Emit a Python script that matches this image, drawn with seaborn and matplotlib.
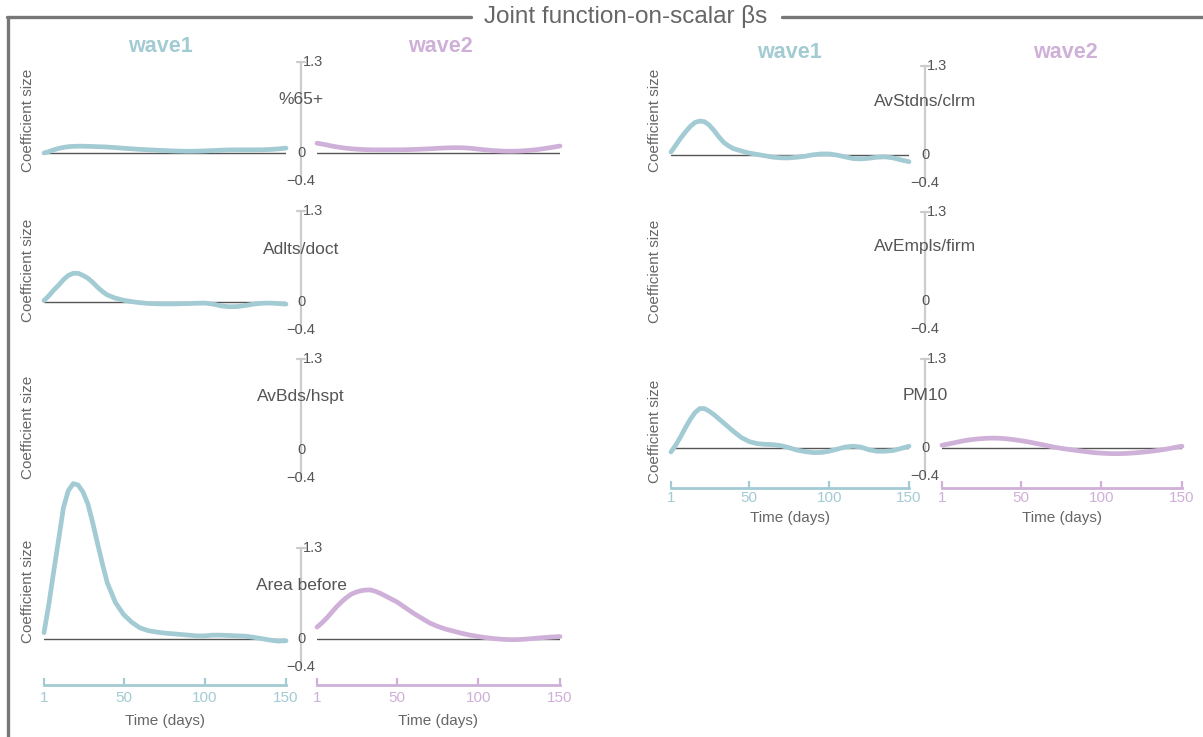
import matplotlib
matplotlib.use("Agg")
import matplotlib.pyplot as plt
import matplotlib.transforms as mtransforms
from matplotlib.lines import Line2D
import seaborn as sns

# ---------------- data ----------------
T = [1, 4, 7, 10, 13, 16, 19, 22, 25, 28, 31, 34, 37, 40,
     45, 50, 55, 60, 65, 70, 75, 80, 85, 90, 95, 100, 105, 110, 115, 120, 125, 130, 135, 140, 145, 150]

pct65_w1 = [0.0, 0.02, 0.045, 0.065, 0.08, 0.09, 0.095, 0.097, 0.097, 0.095, 0.093, 0.09, 0.088, 0.085,
            0.077, 0.068, 0.06, 0.052, 0.046, 0.04, 0.035, 0.03, 0.027, 0.025, 0.026, 0.03, 0.035, 0.04, 0.044, 0.045, 0.045, 0.045, 0.046, 0.05, 0.058, 0.07]
pct65_w2 = [0.14, 0.128, 0.115, 0.1, 0.088, 0.077, 0.068, 0.061, 0.055, 0.051, 0.048, 0.046, 0.045, 0.045,
            0.045, 0.045, 0.047, 0.05, 0.055, 0.06, 0.067, 0.073, 0.076, 0.075, 0.068, 0.055, 0.043, 0.033, 0.027, 0.025, 0.028, 0.035, 0.046, 0.062, 0.08, 0.1]
adlts_w1 = [0.02, 0.09, 0.17, 0.24, 0.32, 0.38, 0.41, 0.41, 0.38, 0.34, 0.28, 0.21, 0.15, 0.1,
            0.055, 0.025, 0.005, -0.01, -0.02, -0.025, -0.027, -0.027, -0.025, -0.022, -0.018, -0.015, -0.03, -0.055, -0.068, -0.065, -0.05, -0.03, -0.018, -0.015, -0.022, -0.03]
area_w1 = [0.09, 0.5, 0.97, 1.42, 1.88, 2.12, 2.22, 2.2, 2.1, 1.93, 1.66, 1.36, 1.07, 0.8,
           0.52, 0.35, 0.24, 0.16, 0.12, 0.1, 0.085, 0.075, 0.065, 0.055, 0.045, 0.045, 0.055, 0.055, 0.05, 0.045, 0.04, 0.025, 0.005, -0.015, -0.03, -0.025]
area_w2 = [0.17, 0.23, 0.3, 0.38, 0.46, 0.53, 0.59, 0.64, 0.67, 0.69, 0.7, 0.7, 0.68, 0.65,
           0.59, 0.53, 0.45, 0.37, 0.3, 0.23, 0.18, 0.14, 0.11, 0.08, 0.055, 0.035, 0.018, 0.005, -0.005, -0.01, -0.008, 0.0, 0.01, 0.02, 0.028, 0.035]
stdns_w1 = [0.05, 0.15, 0.25, 0.34, 0.42, 0.48, 0.5, 0.49, 0.44, 0.36, 0.27, 0.19, 0.14, 0.1,
            0.065, 0.035, 0.015, -0.005, -0.025, -0.035, -0.035, -0.025, -0.01, 0.01, 0.022, 0.022, 0.005, -0.02, -0.045, -0.05, -0.04, -0.025, -0.02, -0.035, -0.065, -0.09]
pm10_w1 = [-0.05, 0.05, 0.17, 0.3, 0.42, 0.52, 0.58, 0.58, 0.54, 0.49, 0.43, 0.37, 0.31, 0.25,
           0.16, 0.1, 0.07, 0.06, 0.055, 0.04, 0.01, -0.025, -0.045, -0.06, -0.058, -0.04, -0.01, 0.02, 0.033, 0.02, -0.02, -0.04, -0.04, -0.03, 0.0, 0.033]
pm10_w2 = [0.047, 0.06, 0.075, 0.09, 0.105, 0.118, 0.128, 0.136, 0.142, 0.147, 0.15, 0.15, 0.148, 0.143,
           0.13, 0.113, 0.094, 0.07, 0.047, 0.022, 0.002, -0.015, -0.03, -0.045, -0.06, -0.068, -0.074, -0.076, -0.072, -0.065, -0.055, -0.043, -0.028, -0.01, 0.012, 0.033]

xticks = [1, 50, 100, 150]

left_rows = [("%65+", pct65_w1, pct65_w2),
             ("Adlts/doct", adlts_w1, None),
             ("AvBds/hspt", None, None),
             ("Area before", area_w1, area_w2)]
right_rows = [("AvStdns/clrm", stdns_w1, None),
              ("AvEmpls/firm", None, None),
              ("PM10", pm10_w1, pm10_w2)]

# ---------------- style ----------------
sns.set_theme(style="white")
plt.rcParams["font.family"] = ["Liberation Sans", "DejaVu Sans"]

TEAL = "#a2cbd3"
PINK = "#cfb0d8"
GRAY = "#666666"
TXT = "#555555"
AXGRAY = "#cccccc"

W, H = 1203, 737
fig = plt.figure(figsize=(W / 100, H / 100), dpi=100)


def fbox(x1, y1, x2, y2):
    return [x1 / W, 1 - y2 / H, (x2 - x1) / W, (y2 - y1) / H]


def draw_group(rows, xw1, xw2, xc, tops, height, ylab, label_y, spine_off, tick_pad, time_y):
    for r, (name, s1, s2) in enumerate(rows):
        top = tops[r]
        axes = []
        for j, (xr, ser, col) in enumerate([(xw1, s1, TEAL), (xw2, s2, PINK)]):
            ax = fig.add_axes(fbox(xr[0], top, xr[1], top + height))
            ax.set_facecolor("none")
            ax.set_xlim(1, 150)
            ax.set_ylim(-0.4, 1.3)
            for sp in ax.spines.values():
                sp.set_visible(False)
            ax.set_yticks([])
            ax.set_xticks([])
            ax.grid(False)
            if ser is not None:
                ax.axhline(0, color="#555555", lw=1.0, zorder=1)
                sns.lineplot(x=T, y=ser, ax=ax, color=col, lw=3.4,
                             clip_on=False, zorder=3,
                             solid_joinstyle="round", solid_capstyle="round")
            ax.set_xlabel("")
            ax.set_ylabel("")
            axes.append(ax)
        ax0 = axes[0]
        # central y axis
        blend = mtransforms.blended_transform_factory(fig.transFigure, ax0.transData)
        xcf = xc / W
        ax0.add_line(Line2D([xcf, xcf], [-0.4, 1.3], transform=blend, color=AXGRAY,
                            lw=1.6, clip_on=False, zorder=0))
        ax0.add_line(Line2D([xcf - 4 / W, xcf + 4 / W], [1.3, 1.3], transform=blend,
                            color=AXGRAY, lw=1.6, clip_on=False, zorder=0))
        ax0.text(xcf + 2 / W, 1.3, "1.3", transform=blend, ha="left", va="center",
                 fontsize=10.5, color=TXT)
        ax0.text(xcf, 0, "0", transform=blend, ha="center", va="center",
                 fontsize=10.5, color=TXT)
        ax0.text(xcf, -0.4, "\u22120.4", transform=blend, ha="center", va="center",
                 fontsize=10.5, color=TXT)
        # variable label
        fig.text(xc / W, 1 - label_y[r] / H, name, ha="center", va="center",
                 fontsize=12.5, color=TXT)
        # y label
        fig.text(ylab[0] / W, 1 - ylab[1][r] / H, "Coefficient size", rotation=90,
                 ha="center", va="center", fontsize=11, color=GRAY)
        if r == len(rows) - 1:
            for ax, col, xr in zip(axes, [TEAL, PINK], [xw1, xw2]):
                ax.spines["bottom"].set_visible(True)
                ax.spines["bottom"].set_position(("outward", spine_off))
                ax.spines["bottom"].set_color(col)
                ax.spines["bottom"].set_linewidth(2.0)
                ax.set_xticks(xticks)
                ax.set_xticklabels([str(v) for v in xticks])
                ax.tick_params(axis="x", direction="in", length=5, width=1.6,
                               colors=col, labelcolor=col, labelsize=11, pad=tick_pad,
                               bottom=True)
                fig.text((xr[0] + xr[1]) / 2 / W, 1 - time_y / H, "Time (days)",
                         ha="center", va="center", fontsize=11, color=GRAY)


# left group
draw_group(left_rows, (44, 286), (317, 560), 301, [62, 211, 359, 548], 119,
           (28, [120, 270, 427, 591]), [100, 249, 396, 586], 13, 4, 721)
# right group
draw_group(right_rows, (671, 909), (942, 1182), 925, [66, 212, 359], 117,
           (655, [120, 271, 431]), [102, 247, 395], 9, 2, 518)

# column headers
for x, y, txt, col in [(160, 47, "wave1", TEAL), (440, 47, "wave2", PINK),
                       (789, 52, "wave1", TEAL), (1065, 52, "wave2", PINK)]:
    fig.text(x / W, 1 - y / H, txt, ha="center", va="center", fontsize=15.5,
             fontweight="bold", color=col)

# outer frame with title
FR = "#777777"
fig.add_artist(Line2D([8 / W, 8 / W], [0, 1 - 17 / H], transform=fig.transFigure,
                      color=FR, lw=2.4))
fig.add_artist(Line2D([7 / W, 471 / W], [1 - 17 / H, 1 - 17 / H], transform=fig.transFigure,
                      color=FR, lw=2.4))
fig.add_artist(Line2D([782 / W, 1], [1 - 17 / H, 1 - 17 / H], transform=fig.transFigure,
                      color=FR, lw=2.4))
fig.text(626 / W, 1 - 17 / H, "Joint function-on-scalar \u03b2s", ha="center", va="center",
         fontsize=17.5, color=GRAY)

fig.savefig("out.png", dpi=100)
